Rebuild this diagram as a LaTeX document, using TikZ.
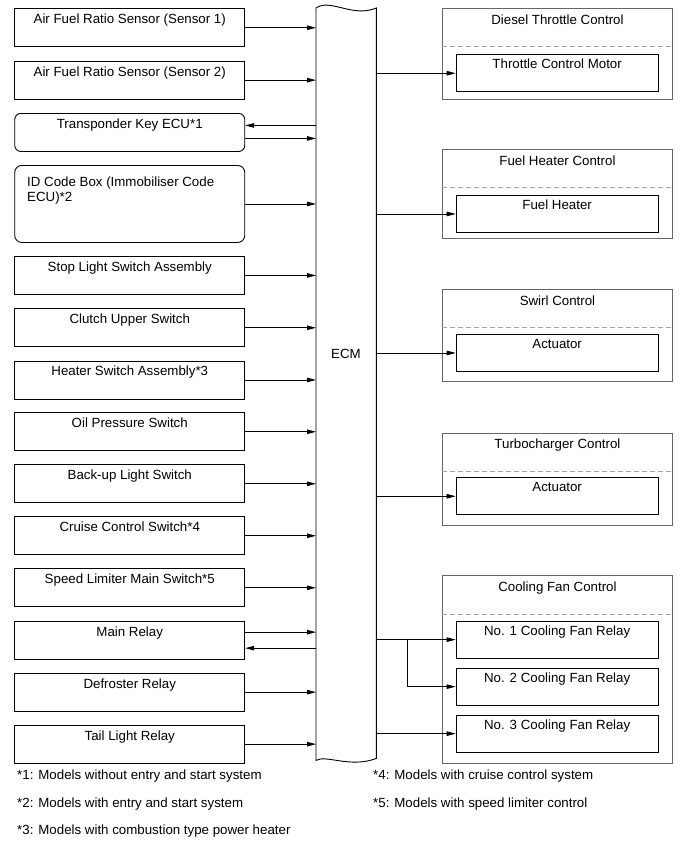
\documentclass[tikz,border=0pt]{standalone}
\usepackage{fontspec}
\setmainfont{Liberation Sans}
\usetikzlibrary{arrows.meta}

\tikzset{
	every node/.style={font=\fontsize{13.3}{15.3}\selectfont},
	leftbox/.style={draw,line width=0.9pt,inner sep=0pt,minimum width=230pt,text height=15pt,text depth=23pt,anchor=north west},
	grpbox/.style={draw=black!60,line width=0.9pt,inner sep=0pt,minimum width=230pt,text height=15.8pt,anchor=north west},
	innerbox/.style={draw,line width=0.9pt,inner sep=0pt,minimum width=202pt,text height=14pt,text depth=23pt,anchor=north west},
	sepline/.style={draw=black!35,line width=0.9pt,dash pattern=on 5pt off 3pt},
	wire/.style={line width=0.8pt,->,>={Triangle[length=9pt,width=4.5pt]}},
	note/.style={anchor=base west,inner sep=0pt}
}

\begin{document}
\begin{tikzpicture}[x=1pt,y=-1pt]
		\useasboundingbox (0,0) rectangle (690,854);

		% inputs on the left
		\node[leftbox] (afs1) at (14.3,8.3) {Air Fuel Ratio Sensor (Sensor 1)};
		\node[leftbox] (afs2) at (14.3,60.7) {Air Fuel Ratio Sensor (Sensor 2)};
		\node[leftbox,rounded corners=6pt] (tkecu) at (14.3,113) {Transponder Key ECU*1};
		\node[leftbox,rounded corners=7pt,text depth=62pt] (idbox) at (14.3,165) {};
		\node[anchor=north west,align=left,inner sep=0pt] (idtext) at (27,176.5) {ID Code Box (Immobiliser Code\\ECU)*2};
		\node[leftbox] (stopsw) at (14.3,256) {Stop Light Switch Assembly};
		\node[leftbox] (clutchsw) at (14.3,308.3) {Clutch Upper Switch};
		\node[leftbox] (heatsw) at (14.3,360.5) {Heater Switch Assembly*3};
		\node[leftbox] (oilsw) at (14.3,412.3) {Oil Pressure Switch};
		\node[leftbox] (backsw) at (14.3,464.3) {Back-up Light Switch};
		\node[leftbox] (cruisesw) at (14.3,516.3) {Cruise Control Switch*4};
		\node[leftbox] (limitsw) at (14.3,568.3) {Speed Limiter Main Switch*5};
		\node[leftbox] (mainrly) at (14.3,620.7) {Main Relay};
		\node[leftbox] (defrly) at (14.3,672.7) {Defroster Relay};
		\node[leftbox] (tailrly) at (14.3,724.7) {Tail Light Relay};

		% ECM with wavy ends
		\node[minimum width=60pt,minimum height=752pt,inner sep=0pt,anchor=north west] (ecm) at (316,8) {};
		\node (ecmlabel) at (346,354) {ECM};
		\draw[line width=0.9pt] (ecm.north west) .. controls +(14,-10) and +(-24,10) .. (ecm.north east)
			-- ([yshift=2pt]ecm.south east) .. controls +(-26,10) and +(10,-6) .. (ecm.south west) -- cycle;

		% outputs on the right
		\node[grpbox,text depth=74.5pt] (dtc) at (442,8.3) {Diesel Throttle Control};
		\node[innerbox] (tcm) at (455.7,54.3) {Throttle Control Motor};
		\node[grpbox,text depth=73.5pt] (fhc) at (442,149) {Fuel Heater Control};
		\node[innerbox] (fheater) at (455.7,195) {Fuel Heater};
		\node[grpbox,text depth=76.2pt] (swc) at (442,289) {Swirl Control};
		\node[innerbox] (swact) at (455.7,334) {Actuator};
		\node[grpbox,text depth=76.5pt] (tbc) at (442,432.7) {Turbocharger Control};
		\node[innerbox] (tbact) at (455.7,477.3) {Actuator};
		\node[grpbox,text depth=172.5pt] (cfc) at (442,575) {Cooling Fan Control};
		\node[innerbox] (cfr1) at (455.7,620.7) {No. 1 Cooling Fan Relay};
		\node[innerbox] (cfr2) at (455.7,667.7) {No. 2 Cooling Fan Relay};
		\node[innerbox] (cfr3) at (455.7,714.7) {No. 3 Cooling Fan Relay};

		\draw[sepline] ([yshift=-38.5pt]dtc.north west) -- ([yshift=-38.5pt]dtc.north east);
		\draw[sepline] ([yshift=-38.5pt]fhc.north west) -- ([yshift=-38.5pt]fhc.north east);
		\draw[sepline] ([yshift=-38.5pt]swc.north west) -- ([yshift=-38.5pt]swc.north east);
		\draw[sepline] ([yshift=-38.5pt]tbc.north west) -- ([yshift=-38.5pt]tbc.north east);
		\draw[sepline] ([yshift=-39pt]cfc.north west) -- ([yshift=-39pt]cfc.north east);

		% signals into the ECM
		\draw[wire] (afs1.east) -- (afs1.east -| ecm.west);
		\draw[wire] (afs2.east) -- (afs2.east -| ecm.west);
		\draw[wire] ([yshift=7pt]tkecu.east -| ecm.west) -- ([yshift=7pt]tkecu.east);
		\draw[wire] ([yshift=-6pt]tkecu.east) -- ([yshift=-6pt]tkecu.east -| ecm.west);
		\draw[wire] (idbox.east) -- (idbox.east -| ecm.west);
		\draw[wire] (stopsw.east) -- (stopsw.east -| ecm.west);
		\draw[wire] (clutchsw.east) -- (clutchsw.east -| ecm.west);
		\draw[wire] (heatsw.east) -- (heatsw.east -| ecm.west);
		\draw[wire] (oilsw.east) -- (oilsw.east -| ecm.west);
		\draw[wire] (backsw.east) -- (backsw.east -| ecm.west);
		\draw[wire] (cruisesw.east) -- (cruisesw.east -| ecm.west);
		\draw[wire] (limitsw.east) -- (limitsw.east -| ecm.west);
		\draw[wire] ([yshift=8pt]mainrly.east) -- ([yshift=8pt]mainrly.east -| ecm.west);
		\draw[wire] ([yshift=-8pt]mainrly.east -| ecm.west) -- ([yshift=-8pt]mainrly.east);
		\draw[wire] (defrly.east) -- (defrly.east -| ecm.west);
		\draw[wire] (tailrly.east) -- (tailrly.east -| ecm.west);

		% signals out of the ECM
		\draw[wire] (tcm.west -| ecm.east) -- (tcm.west);
		\draw[wire] (fheater.west -| ecm.east) -- (fheater.west);
		\draw[wire] (swact.west -| ecm.east) -- (swact.west);
		\draw[wire] (tbact.west -| ecm.east) -- (tbact.west);
		\draw[wire] (cfr1.west -| ecm.east) -- (cfr1.west);
		\coordinate (fanbr) at (407,0);
		\draw[wire] (fanbr |- cfr1.west) |- (cfr2.west);
		\draw[wire] (cfr3.west -| ecm.east) -- (cfr3.west);

		% notes
		\node[note] (fn1) at (17,779.8) {*1: Models without entry and start system};
		\node[note] (fn2) at (17,807) {*2: Models with entry and start system};
		\node[note] (fn3) at (17,834.8) {*3: Models with combustion type power heater};
		\node[note] (fn4) at (373,779.8) {*4: Models with cruise control system};
		\node[note] (fn5) at (373,807) {*5: Models with speed limiter control};
\end{tikzpicture}
\end{document}
